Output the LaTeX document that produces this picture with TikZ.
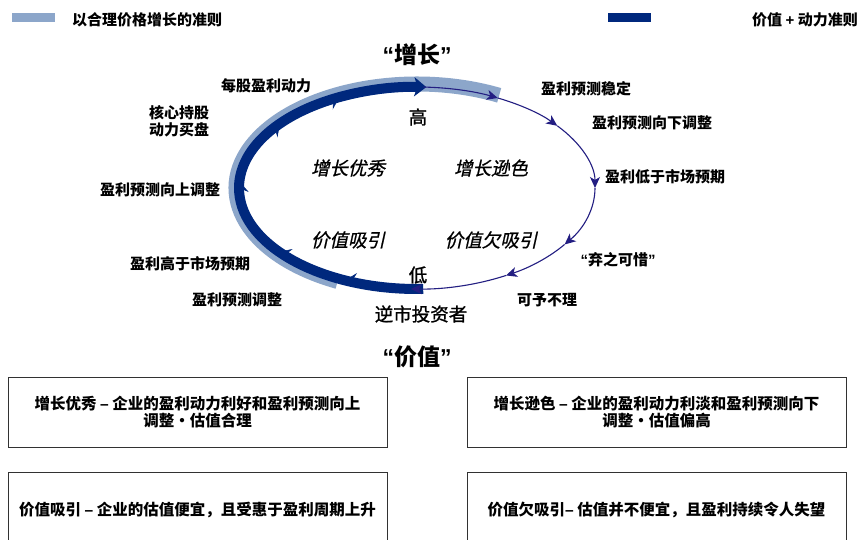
\documentclass[tikz,border=0pt]{standalone}
\usepackage{fontspec}
\setmainfont{Noto Sans CJK SC}
\newfontfamily\lat{Liberation Sans}
\newfontfamily\cjkit{Noto Sans CJK SC}[FakeSlant=0.22,FakeBold=0.8]
\newfontfamily\cjkmed{Noto Sans CJK SC}[FakeBold=1.2]
\usetikzlibrary{arrows.meta}
\definecolor{navy}{RGB}{0,40,125}
\definecolor{lightb}{RGB}{140,166,202}
\definecolor{thinc}{RGB}{35,30,130}
\definecolor{boxc}{RGB}{50,50,50}
\begin{document}
\begin{tikzpicture}[x=1pt,y=1pt,
  lbl/.style={font=\fontsize{15}{17}\selectfont\bfseries, inner sep=0pt},
  big/.style={font=\fontsize{18.5}{20}\selectfont\cjkmed, inner sep=0pt},
  ital/.style={font=\fontsize{18.5}{20}\selectfont\cjkit, inner sep=0pt},
  titletext/.style={font=\fontsize{23}{25}\selectfont\bfseries, inner sep=0pt},
  thinarrow/.style={thinc, line width=1.1pt, -{Stealth[length=11pt,width=10pt,inset=3pt]}},
  barb/.style={navy, line width=0.5pt, -{Stealth[length=7pt,width=14pt,inset=2.5pt]}},
  txtbox/.style={draw=boxc, line width=0.9pt, minimum width=379pt, align=center,
    font=\fontsize{15.5}{17}\selectfont\bfseries, inner sep=0pt}]
\clip (0,0) rectangle (861,540);
\fill[white] (0,0) rectangle (861,540);
% legend
\fill[lightb] (12,518) rectangle (55,527);
\node[lbl, anchor=west] (leg1) at (72,520) {以合理价格增长的准则};
\fill[navy] (608,518) rectangle (651,527);
\node[lbl, anchor=east] (leg2) at (858,520) {价值 {\lat\bfseries +} 动力准则};
% titles
\node[titletext] (tgrowth) at (417,485) {{\lat\bfseries “}增长{\lat\bfseries ”}};
\node[titletext] (tvalue) at (417,183) {{\lat\bfseries “}价值{\lat\bfseries ”}};
% cycle
\coordinate (C) at (417,352);
\draw[lightb, line width=15pt] ([shift={(C)}]244:181pt and 104pt)
  arc[start angle=244, end angle=63, x radius=181pt, y radius=104pt];
\draw[navy, line width=10pt, -{Stealth[length=12pt,width=19pt,inset=3pt]}] ([shift={(C)}]272:178pt and 101pt)
  arc[start angle=272, end angle=87, x radius=178pt, y radius=101pt];
\foreach \b in {117,142,178,220,247}
  \draw[barb] ([shift={(C)}]\b+5:175pt and 98pt)
    arc[start angle=\b+5, end angle=\b, x radius=175pt, y radius=98pt];
\foreach \a/\b in {88/63, 63/38, 38/0, 0/-34, -34/-60, -60/-92}
  \draw[thinarrow] ([shift={(C)}]\a:178pt and 101pt)
    arc[start angle=\a, end angle=\b, x radius=178pt, y radius=101pt];
% inner labels
\node[big] (hi) at (418,423) {高};
\node[big] (lo) at (418,265) {低};
\node[big] (contra) at (421,226) {逆市投资者};
\node[ital] (q1) at (348,372) {增长优秀};
\node[ital] (q2) at (491,372) {增长逊色};
\node[ital] (q3) at (348,300) {价值吸引};
\node[ital] (q4) at (491,300) {价值欠吸引};
% outer labels left
\node[lbl] (l1) at (266,454) {每股盈利动力};
\node[lbl, align=center] (l2) at (179,419) {核心持股\\动力买盘};
\node[lbl] (l3) at (160,350) {盈利预测向上调整};
\node[lbl] (l4) at (190,276) {盈利高于市场预期};
\node[lbl] (l5) at (237,240) {盈利预测调整};
% outer labels right
\node[lbl] (r1) at (586,451) {盈利预测稳定};
\node[lbl] (r2) at (652,417) {盈利预测向下调整};
\node[lbl] (r3) at (665,363) {盈利低于市场预期};
\node[lbl] (r4) at (618,280) {{\lat\bfseries “}弃之可惜{\lat\bfseries ”}};
\node[lbl] (r5) at (547,240) {可予不理};
% boxes
\node[txtbox, minimum height=70pt] (b1) at (197.5,128) {增长优秀 {\lat\bfseries –} 企业的盈利动力利好和盈利预测向上\\调整・估值合理};
\node[txtbox, minimum height=70pt] (b2) at (656.5,128) {增长逊色 {\lat\bfseries –} 企业的盈利动力利淡和盈利预测向下\\调整・估值偏高};
\node[txtbox, minimum height=76pt] (b3) at (197.5,30) {价值吸引 {\lat\bfseries –} 企业的估值便宜，且受惠于盈利周期上升};
\node[txtbox, minimum height=76pt] (b4) at (656.5,30) {价值欠吸引{\lat\bfseries –} 估值并不便宜，且盈利持续令人失望};
\end{tikzpicture}
\end{document}
